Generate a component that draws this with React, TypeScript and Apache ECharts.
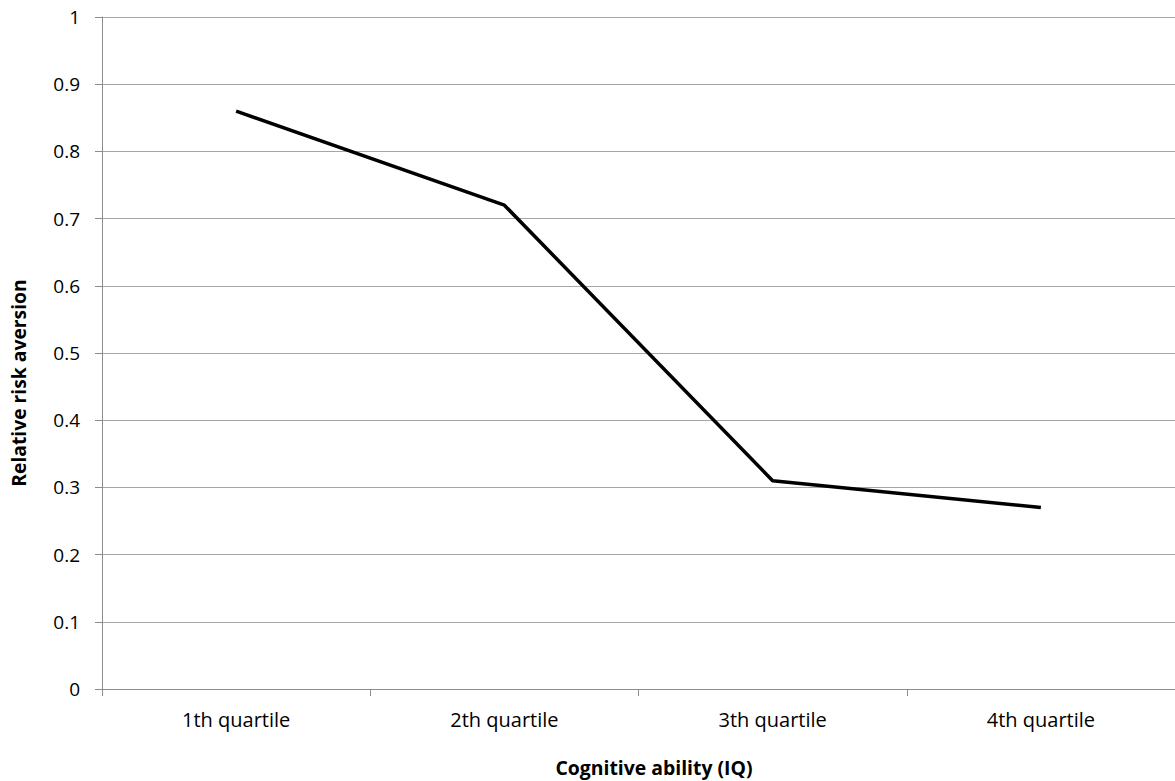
import React, { useEffect, useRef } from "react";
import * as echarts from "echarts";

const categories = ["1th quartile", "2th quartile", "3th quartile", "4th quartile"];
const riskAversion = [0.86, 0.72, 0.31, 0.27];
const xAxisTitle = "Cognitive ability (IQ)";
const yAxisTitle = "Relative risk aversion";

const FONT = "'Open Sans', 'Noto Sans', sans-serif";

export default function App() {
  const ref = useRef<HTMLDivElement>(null);
  useEffect(() => {
    if (!ref.current) return;
    const chart = echarts.init(ref.current, null, { renderer: "svg" });
    chart.setOption({
      animation: false,
      backgroundColor: "#ffffff",
      grid: { left: 102, top: 17, width: 1080, height: 672, containLabel: false },
      xAxis: {
        type: "category",
        data: categories,
        boundaryGap: true,
        axisLine: { show: true, lineStyle: { color: "#8c8c8c", width: 1 } },
        axisTick: { show: true, length: 7, alignWithLabel: false, lineStyle: { color: "#8c8c8c" } },
        axisLabel: { color: "#000", fontFamily: FONT, fontSize: 20, margin: 20 },
        splitLine: { show: false },
      },
      yAxis: {
        type: "value",
        min: 0,
        max: 1,
        interval: 0.1,
        axisLine: { show: true, lineStyle: { color: "#8c8c8c", width: 1 } },
        axisTick: { show: true, length: 7, lineStyle: { color: "#8c8c8c" } },
        axisLabel: {
          color: "#000",
          fontFamily: FONT,
          fontSize: 19,
          margin: 22,
          formatter: (v: number) => String(Math.round(v * 10) / 10),
        },
        splitLine: { show: true, lineStyle: { color: "#a6a6a6", width: 1 } },
      },
      graphic: [
        {
          type: "text",
          x: 654,
          y: 767,
          style: {
            text: xAxisTitle,
            fill: "#000",
            font: `bold 19.4px ${FONT}`,
            textAlign: "center",
            textVerticalAlign: "middle",
          },
        },
        {
          type: "text",
          x: 18,
          y: 383,
          rotation: Math.PI / 2,
          style: {
            text: yAxisTitle,
            fill: "#000",
            font: `bold 19.3px ${FONT}`,
            textAlign: "center",
            textVerticalAlign: "middle",
          },
        },
      ],
      series: [
        {
          type: "line",
          data: riskAversion,
          symbol: "none",
          lineStyle: { color: "#000", width: 3.5 },
        },
      ],
    });
    return () => chart.dispose();
  }, []);
  return (
    <div
      ref={ref}
      style={{ position: "fixed", left: 0, top: 0, width: 1175, height: 781 }}
    />
  );
}
